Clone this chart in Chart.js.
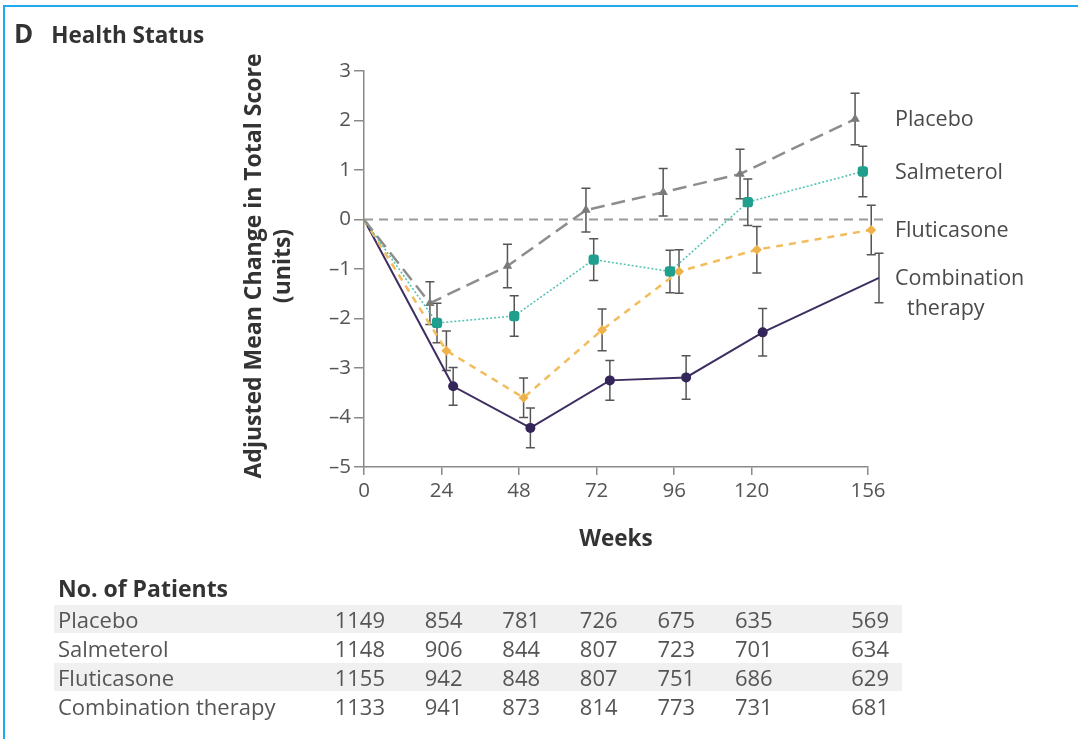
<!DOCTYPE html>
<html><head><meta charset="utf-8">
<script src="https://cdn.jsdelivr.net/npm/chart.js@4.4.1/dist/chart.umd.min.js"></script>
<style>
html,body{margin:0;padding:0;background:#fff;overflow:hidden;}
#wrap{position:relative;width:1078px;height:739px;overflow:hidden;font-family:"Open Sans",sans-serif;}
#frame{position:absolute;left:3px;top:5px;width:1200px;height:900px;border-left:2px solid #1fa9ee;border-top:2px solid #1fa9ee;}
canvas{position:absolute;left:0;top:0;}
.t{position:absolute;white-space:nowrap;line-height:28px;}
.band{position:absolute;background:#f0f0f0;}
</style></head><body>
<div id="wrap">
<div id="frame"></div>
<canvas id="c" width="1078" height="739"></canvas>
<div class="t" style="left:14px;top:19px;font-weight:700;color:#333;"><span style="font-size:26px">D</span><span style="font-size:22.5px;margin-left:18px">Health Status</span></div>
<div id="table"></div>
</div>
<script>
// ---- data ----
const xTicks = [0, 24, 48, 72, 96, 120, 156];
const seriesNames = ['Placebo', 'Salmeterol', 'Fluticasone', 'Combination therapy'];

const placeboWeeks = [0, 20.4, 44.4, 68.7, 92.6, 116.4, 152.0];
const placeboValues = [0, -1.69, -0.94, 0.19, 0.55, 0.92, 2.03];
const placeboErrors = [0, 0.43, 0.44, 0.44, 0.48, 0.50, 0.52];

const salmeterolWeeks = [0, 22.6, 46.5, 71.1, 94.7, 118.8, 154.4];
const salmeterolValues = [0, -2.09, -1.95, -0.81, -1.05, 0.35, 0.97];
const salmeterolErrors = [0, 0.40, 0.41, 0.42, 0.43, 0.47, 0.51];

const fluticasoneWeeks = [0, 25.5, 49.4, 73.7, 97.5, 121.6, 157.0];
const fluticasoneValues = [0, -2.65, -3.60, -2.23, -1.05, -0.61, -0.21];
const fluticasoneErrors = [0, 0.40, 0.40, 0.42, 0.44, 0.47, 0.50];

const combinationWeeks = [0, 27.6, 51.5, 76.1, 99.7, 123.4, 159.4];
const combinationValues = [0, -3.37, -4.21, -3.25, -3.19, -2.28, -1.18];
const combinationErrors = [0, 0.38, 0.40, 0.40, 0.44, 0.48, 0.50];

const patientsPlacebo = [1149, 854, 781, 726, 675, 635, 569];
const patientsSalmeterol = [1148, 906, 844, 807, 723, 701, 634];
const patientsFluticasone = [1155, 942, 848, 807, 751, 686, 629];
const patientsCombination = [1133, 941, 873, 814, 773, 731, 681];

const zeroLineEndWeek = 161;
// ---- end data ----

const FONT = '"Open Sans", "Noto Sans", sans-serif';
const series = [
  {name: seriesNames[0], label: ['Placebo'], weeks: placeboWeeks, vals: placeboValues, err: placeboErrors,
   line: '#8d8d8d', point: '#7a7a7a', width: 2.5, dash: [14, 7], style: 'triangle', r: 5.5},
  {name: seriesNames[1], label: ['Salmeterol'], weeks: salmeterolWeeks, vals: salmeterolValues, err: salmeterolErrors,
   line: '#55c4b6', point: '#1f9f8e', width: 1.6, dash: [2, 2], style: 'rectRounded', r: 6},
  {name: seriesNames[2], label: ['Fluticasone'], weeks: fluticasoneWeeks, vals: fluticasoneValues, err: fluticasoneErrors,
   line: '#f2bd5c', point: '#efb24a', width: 2.5, dash: [7, 6], style: 'rectRot', r: 5},
  {name: seriesNames[3], label: ['Combination', 'therapy'], weeks: combinationWeeks, vals: combinationValues, err: combinationErrors,
   line: '#3f2e62', point: '#33245a', width: 2, dash: [], style: 'circle', r: 5}
];

const overlay = {
  id: 'overlay',
  beforeDatasetsDraw(chart) {
    const {ctx, scales: {x, y}} = chart;
    ctx.save();
    ctx.strokeStyle = '#9a9a9a'; ctx.lineWidth = 2; ctx.setLineDash([9, 6]);
    ctx.beginPath();
    ctx.moveTo(x.getPixelForValue(0), y.getPixelForValue(0));
    ctx.lineTo(x.getPixelForValue(zeroLineEndWeek), y.getPixelForValue(0));
    ctx.stroke();
    ctx.setLineDash([]);
    ctx.strokeStyle = '#555'; ctx.lineWidth = 1.5;
    series.forEach(s => {
      s.weeks.forEach((w, i) => {
        if (!s.err[i]) return;
        const px = x.getPixelForValue(w);
        const y1 = y.getPixelForValue(s.vals[i] + s.err[i]);
        const y2 = y.getPixelForValue(s.vals[i] - s.err[i]);
        ctx.beginPath();
        ctx.moveTo(px, y1); ctx.lineTo(px, y2);
        ctx.moveTo(px - 4.5, y1); ctx.lineTo(px + 4.5, y1);
        ctx.moveTo(px - 4.5, y2); ctx.lineTo(px + 4.5, y2);
        ctx.stroke();
      });
    });
    ctx.restore();
  },
  afterDraw(chart) {
    const {ctx, chartArea, scales: {x, y}} = chart;
    ctx.save();
    // y-axis title
    ctx.fillStyle = '#333';
    ctx.font = '700 23px ' + FONT;
    ctx.textAlign = 'center'; ctx.textBaseline = 'middle';
    const cy = (chartArea.top + chartArea.bottom) / 2 - 3;
    ctx.save(); ctx.translate(chartArea.left - 110, cy); ctx.rotate(-Math.PI / 2);
    ctx.fillText('Adjusted Mean Change in Total Score', 0, 0); ctx.restore();
    ctx.save(); ctx.translate(chartArea.left - 81, cy); ctx.rotate(-Math.PI / 2);
    ctx.fillText('(units)', 0, 0); ctx.restore();
    // x-axis title
    ctx.font = '700 22.5px ' + FONT;
    ctx.fillText('Weeks', (chartArea.left + chartArea.right) / 2, chartArea.bottom + 73);
    // series labels
    ctx.font = '400 21.5px ' + FONT;
    ctx.fillStyle = '#4a4a4a';
    ctx.textAlign = 'left';
    const lx = x.getPixelForValue(xTicks[xTicks.length - 1]) + 27;
    series.forEach(s => {
      const ly = y.getPixelForValue(s.vals[s.vals.length - 1]);
      s.label.forEach((t, k) => ctx.fillText(t, lx + (k ? 12 : 0), ly + 1 + k * 30));
    });
    ctx.restore();
  }
};

const datasets = series.map(s => ({
  label: s.name,
  data: s.weeks.map((w, i) => ({x: w, y: s.vals[i]})),
  borderColor: s.line,
  borderWidth: s.width,
  borderDash: s.dash,
  backgroundColor: s.point,
  pointBackgroundColor: s.point,
  pointBorderColor: s.point,
  pointBorderWidth: 0,
  pointStyle: s.style,
  pointRadius: ctx => ctx.dataIndex === 0 ? 0 : s.r,
  tension: 0,
  clip: false
}));

const tickFont = {family: FONT, size: 20.5};
const chart = new Chart(document.getElementById('c'), {
  type: 'line',
  data: {datasets},
  options: {
    responsive: false,
    animation: false,
    layout: {padding: {top: 71, right: 210, bottom: 0, left: 0}},
    plugins: {legend: {display: false}, tooltip: {enabled: false}},
    scales: {
      x: {
        type: 'linear', min: 0, max: 156,
        afterBuildTicks: s => { s.ticks = xTicks.map(v => ({value: v})); },
        afterFit: s => { s.height = 272; },
        ticks: {color: '#555', font: tickFont, padding: 4, maxRotation: 0, autoSkip: false},
        grid: {display: true, drawOnChartArea: false, drawTicks: true, tickLength: 8, color: '#8a8a8a', lineWidth: 1.5},
        border: {display: true, color: '#8a8a8a', width: 1.5}
      },
      y: {
        min: -5, max: 3,
        afterFit: s => { s.width = 364; },
        ticks: {stepSize: 1, color: '#555', font: tickFont, padding: 3,
          callback: v => v < 0 ? '\u2013' + Math.abs(v) : String(v)},
        grid: {display: true, drawOnChartArea: false, drawTicks: true, tickLength: 10, color: '#8a8a8a', lineWidth: 1.5},
        border: {display: true, color: '#8a8a8a', width: 1.5}
      }
    }
  },
  plugins: [overlay]
});

// ---- patient table (HTML text) ----
const table = document.getElementById('table');
function addEl(cls, style, text) {
  const d = document.createElement('div');
  d.className = cls; Object.assign(d.style, style);
  if (text !== undefined) d.textContent = text;
  table.appendChild(d); return d;
}
const rowCenters = [619, 648, 677, 706];
const rows = [patientsPlacebo, patientsSalmeterol, patientsFluticasone, patientsCombination];
[0, 2].forEach(r => addEl('band', {left: '54px', width: '848px', top: (rowCenters[r] - 14) + 'px', height: '28px'}));
addEl('t', {left: '58px', top: (588 - 14) + 'px', fontWeight: '700', fontSize: '23px', color: '#333'}, 'No. of Patients');
const xs = chart.scales.x;
rows.forEach((vals, r) => {
  addEl('t', {left: '58px', top: (rowCenters[r] - 14) + 'px', fontSize: '22px', color: '#555'}, seriesNames[r]);
  vals.forEach((v, i) => {
    const right = xs.getPixelForValue(xTicks[i]) + 21;
    addEl('t', {left: right + 'px', top: (rowCenters[r] - 14) + 'px', fontSize: '22px', color: '#555', transform: 'translateX(-100%)'}, String(v));
  });
});
</script>
</body></html>
